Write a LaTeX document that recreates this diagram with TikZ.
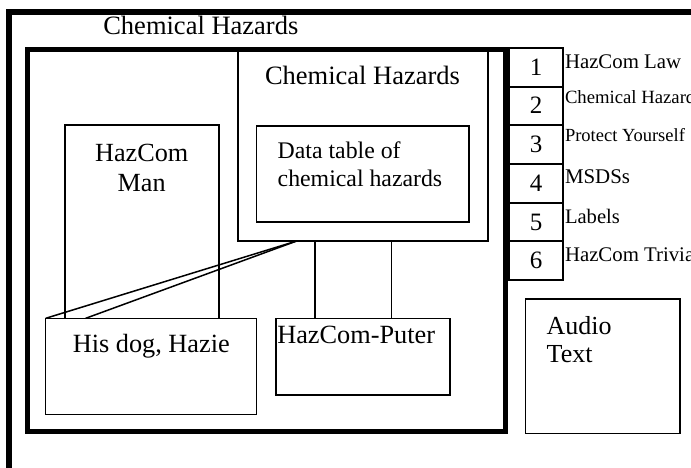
\documentclass[tikz,border=0pt]{standalone}
\usepackage{fontspec}
\usetikzlibrary{calc}
\setmainfont{Liberation Serif}
\newcommand\setfs[2]{\fontsize{#1}{#2}\selectfont}
\tikzset{
  heavyframe/.style={draw, line width=5.5},
  box/.style={draw, rectangle, line width=1.5, inner sep=0, outer sep=0},
  numbox/.style={draw, rectangle, line width=2, inner sep=0, outer sep=0,
    minimum width=54, minimum height=38.67},
  link/.style={line width=1.5},
  txt/.style={inner sep=0, outer sep=0},
}
\begin{document}
\begin{tikzpicture}[x=1pt, y=-1pt]
  \useasboundingbox (0,0) rectangle (691,468);
  \clip (0,0) rectangle (691,468);

  % outer page frame, running past the right and bottom edges
  \draw[heavyframe] (9,12) rectangle (740,520);
  \node[txt, anchor=base, font=\setfs{26.5}{30}] (title) at (200.8,35) {Chemical Hazards};

  % screen area boxes
  \node[box, minimum width=250, minimum height=191.5] (chem) at (363,145.25) {};
  \node[box, minimum width=212.3, minimum height=96] (data) at (362.85,174) {};
  \node[box, minimum width=154, minimum height=289.3] (man) at (142,269.65) {};
  \node[heavyframe, rectangle, inner sep=0, outer sep=0, line width=5,
        minimum width=478, minimum height=381.5] (main) at (266.5,240.25) {};

  % connectors from the chemical hazards box
  \coordinate (fork) at (296.7,0);
  \coordinate (dogx) at (85.7,0);
  \coordinate (va) at (315,0);
  \coordinate (vb) at (391.7,0);
  \node[box, fill=white, minimum width=211, minimum height=96] (dog) at (151.2,366.3) {};
  \node[box, fill=white, minimum width=174, minimum height=76.7] (puter) at (363,356.65) {};
  \draw[link] (chem.south -| fork) -- (dog.north west);
  \draw[link] (chem.south -| fork) -- (dog.north -| dogx);
  \draw[link] (chem.south -| va) -- (puter.north -| va);
  \draw[link] (chem.south -| vb) -- (puter.north -| vb);

  \node[box, minimum width=154.3, minimum height=134.3] (audio) at (602.85,366.15) {};

  % box texts (base anchor of a multi-line node sits on its last line)
  \node[txt, anchor=base, font=\setfs{26.5}{30}] (chemtitle) at (362.5,85) {Chemical Hazards};
  \node[txt, anchor=base west, align=left, font=\setfs{23.8}{27.7}] (datatext) at (277.7,186.7)
    {Data table of\\chemical hazards};
  \node[txt, anchor=base, align=center, font=\setfs{26.2}{30}] (mantext) at (141.7,191.7)
    {HazCom\\Man};
  \node[txt, anchor=base, font=\setfs{26.3}{30}] (dogtext) at (151.3,352.7) {His dog, Hazie};
  \node[txt, anchor=base west, font=\setfs{26.3}{30}] (putertext) at (277.3,343.3) {HazCom-Puter};
  \node[txt, anchor=base west, align=left, font=\setfs{26}{28.3}] (audiotext) at (546.7,362.7)
    {Audio\\Text};

  % numbered menu
  \foreach \i/\lbl/\sz/\yb in {1/HazCom Law/20.8/69, 2/Chemical Hazards/18.7/104,
      3/Protect Yourself/18.5/142, 4/MSDSs/20.9/183, 5/Labels/20.6/223, 6/HazCom Trivia/20.8/261} {
    \node[numbox] (n\i) at (536,{48+19.33+38.67*(\i-1)}) {};
    \node[txt, anchor=base, font=\setfs{25}{28}] (d\i) at ($(n\i.center)+(0,8)$) {\i};
    \node[txt, anchor=base west, font=\setfs{\sz}{24}] (m\i) at (565,\yb) {\lbl};
  }
\end{tikzpicture}
\end{document}
